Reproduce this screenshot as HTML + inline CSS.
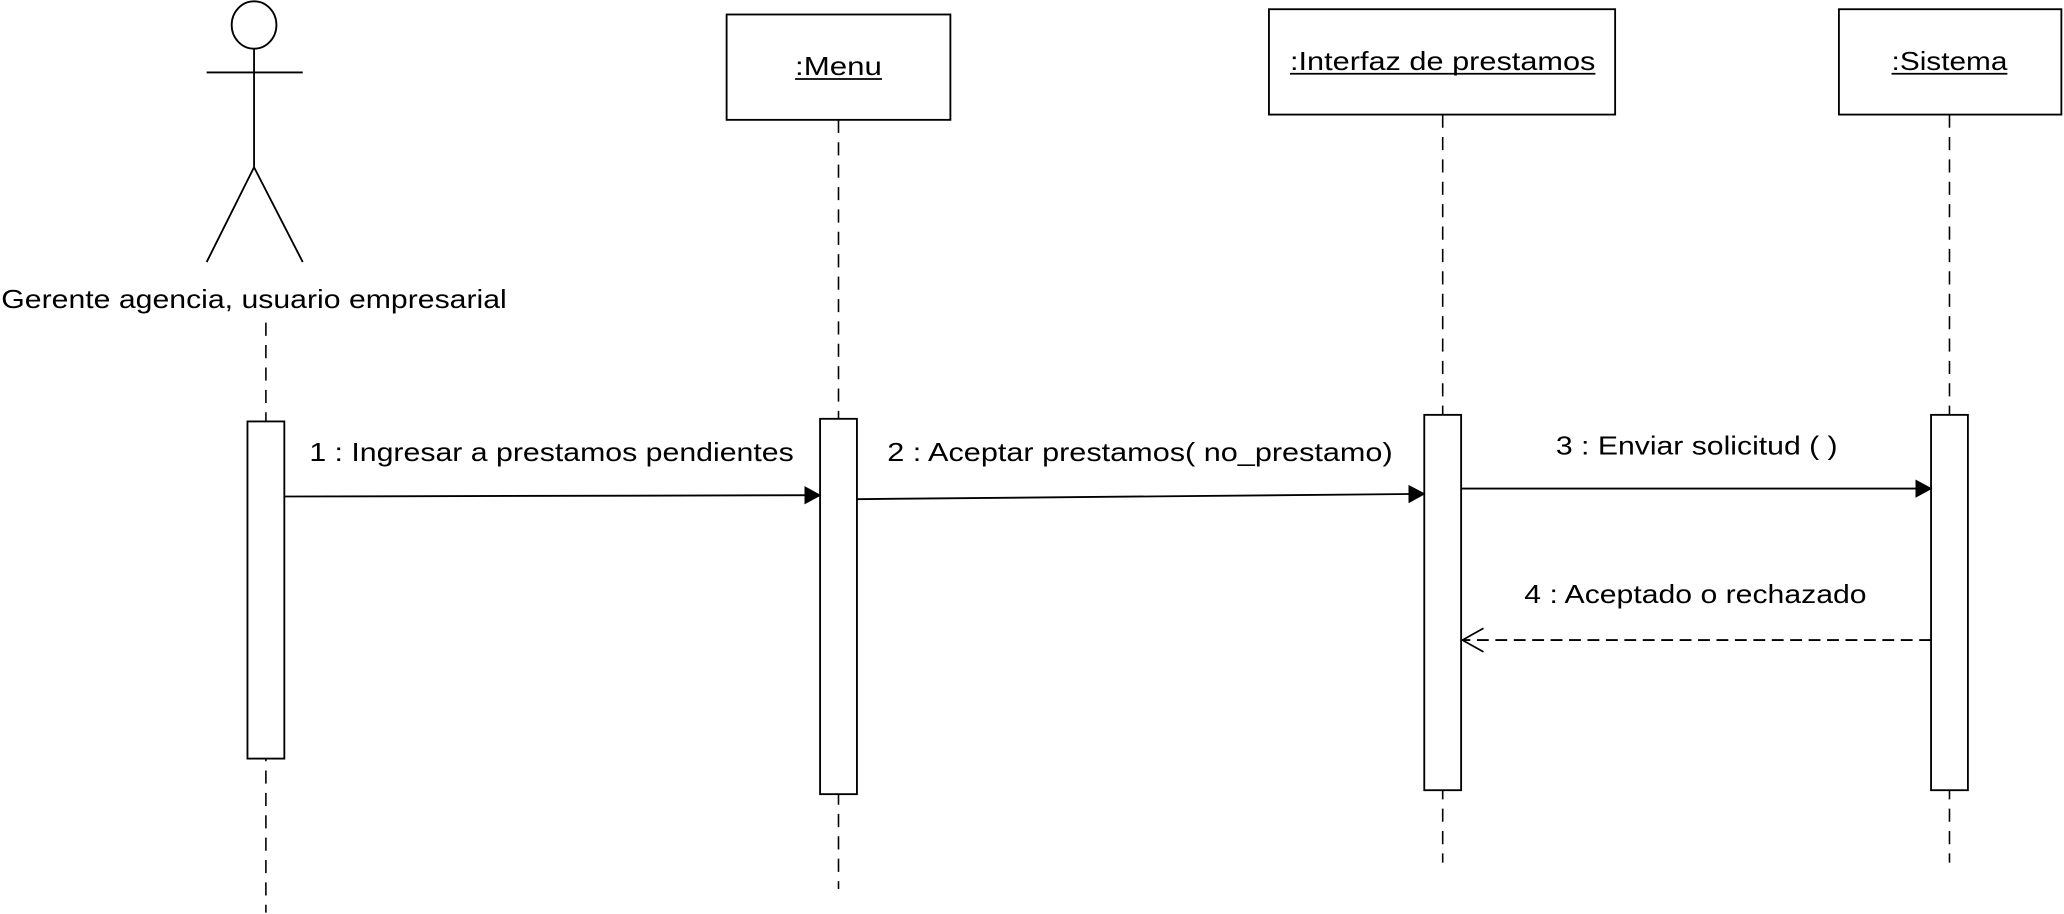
<!DOCTYPE html>
<html><head><meta charset="utf-8"><style>
html,body{margin:0;padding:0;background:#fff;}
svg{display:block;}
text{font-family:"Liberation Sans",sans-serif;font-size:20px;fill:#000;}
</style></head><body>
<svg width="2064" height="914" viewBox="0 0 1568 694" preserveAspectRatio="none" xmlns="http://www.w3.org/2000/svg">
<defs>
<marker id="f" markerWidth="14" markerHeight="14" refX="12" refY="7" orient="auto" markerUnits="userSpaceOnUse"><path d="M0,0 L13,7 L0,14 Z" fill="#000"/></marker>
<marker id="o" markerWidth="20" markerHeight="20" refX="18" refY="10" orient="auto" markerUnits="userSpaceOnUse"><path d="M2,1 L18,10 L2,19" fill="none" stroke="#000" stroke-width="1.3"/></marker>
</defs>
<g stroke="#000" stroke-width="1.4" fill="none">
<ellipse cx="193" cy="19" rx="17" ry="18" fill="#fff"/>
<line x1="193" y1="37" x2="193" y2="127"/>
<line x1="157" y1="55" x2="230" y2="55"/>
<line x1="193" y1="127" x2="157" y2="199"/>
<line x1="193" y1="127" x2="230" y2="199"/>
<rect x="552" y="11" width="170" height="80" fill="#fff"/>
<rect x="964" y="7" width="263" height="80" fill="#fff"/>
<rect x="1397" y="7" width="169" height="80" fill="#fff"/>
<g stroke-dasharray="10,7" stroke-width="1.2">
<line x1="202" y1="245" x2="202" y2="693"/>
<line x1="637" y1="91" x2="637" y2="675"/>
<line x1="1096" y1="87" x2="1096" y2="655"/>
<line x1="1481" y1="87" x2="1481" y2="655"/>
</g>
<rect x="188" y="320" width="28" height="256" fill="#fff"/>
<rect x="623" y="318" width="28" height="285" fill="#fff"/>
<rect x="1082" y="315" width="28" height="285" fill="#fff"/>
<rect x="1467" y="315" width="28" height="285" fill="#fff"/>
<line x1="216" y1="377" x2="623" y2="376" marker-end="url(#f)"/>
<line x1="651" y1="379" x2="1082" y2="375" marker-end="url(#f)"/>
<line x1="1110" y1="371" x2="1467" y2="371" marker-end="url(#f)"/>
<line x1="1467" y1="486" x2="1111" y2="486" stroke-dasharray="9,5" marker-end="url(#o)"/>
</g>
<text x="193" y="234" text-anchor="middle" textLength="384" lengthAdjust="spacingAndGlyphs">Gerente agencia, usuario empresarial</text>
<text x="637" y="57" text-anchor="middle" textLength="66" lengthAdjust="spacingAndGlyphs">:Menu</text>
<text x="1096" y="53" text-anchor="middle" textLength="232" lengthAdjust="spacingAndGlyphs">:Interfaz de prestamos</text>
<text x="1481" y="53" text-anchor="middle" textLength="88" lengthAdjust="spacingAndGlyphs">:Sistema</text>
<line x1="604" y1="60" x2="670" y2="60" stroke="#000" stroke-width="1.3"/>
<line x1="980" y1="56" x2="1212" y2="56" stroke="#000" stroke-width="1.3"/>
<line x1="1437" y1="56" x2="1525" y2="56" stroke="#000" stroke-width="1.3"/>
<text x="419" y="350" text-anchor="middle" textLength="368" lengthAdjust="spacingAndGlyphs">1 : Ingresar a prestamos pendientes</text>
<text x="866" y="350" text-anchor="middle" textLength="384" lengthAdjust="spacingAndGlyphs">2 : Aceptar prestamos( no_prestamo)</text>
<text x="1289" y="345" text-anchor="middle" textLength="214" lengthAdjust="spacingAndGlyphs">3 : Enviar solicitud ( )</text>
<text x="1288" y="458" text-anchor="middle" textLength="260" lengthAdjust="spacingAndGlyphs">4 : Aceptado o rechazado</text>
</svg>
</body></html>
